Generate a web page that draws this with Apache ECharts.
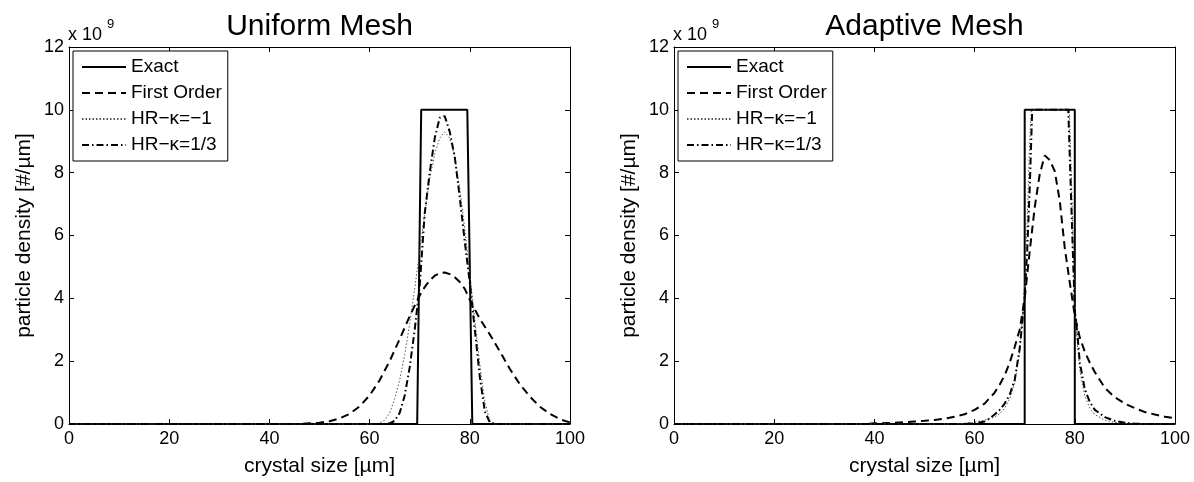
<!DOCTYPE html>
<html>
<head>
<meta charset="utf-8">
<script src="https://cdn.jsdelivr.net/npm/echarts@6/dist/echarts.min.js"></script>
<style>
  html, body { margin: 0; padding: 0; background: #fff; }
  #chart { width: 1194px; height: 482px; }
</style>
</head>
<body>
<div id="chart"></div>
<script>
// Particle density (units of 1e9 #/µm) versus crystal size (µm)

const seriesNames = ['Exact', 'First Order', 'HR\u2212\u03ba=\u22121', 'HR\u2212\u03ba=1/3'];
const panelTitles = ['Uniform Mesh', 'Adaptive Mesh'];
const xTicks = { min: 0, max: 100, step: 20 };
const yTicks = { min: 0, max: 12, step: 2 };

// ---- Uniform mesh ----
const uniformExactX = [0, 69.5, 70.3, 79.5, 80.5, 100];
const uniformExactY = [0, 0, 10, 10, 0, 0];

const uniformFirstX = [0, 46, 48, 50, 52, 54, 56, 58, 60, 62, 64, 66, 68, 69, 70, 71, 72, 73, 74, 75, 76, 77, 78, 79, 80, 81, 82, 84, 86, 88, 90, 92, 94, 96, 98, 100];
const uniformFirstY = [0, 0, 0.02, 0.04, 0.09, 0.18, 0.32, 0.56, 0.91, 1.39, 2.0, 2.7, 3.43, 3.77, 4.09, 4.36, 4.57, 4.72, 4.8, 4.82, 4.77, 4.67, 4.52, 4.3, 3.95, 3.65, 3.35, 2.85, 2.31, 1.75, 1.26, 0.87, 0.55, 0.32, 0.15, 0.05];

const uniformHRm1X = [0, 61, 62, 63, 64, 65, 66, 67, 68, 69, 70, 71, 72, 73, 74, 75, 76, 77, 78, 79, 80, 81, 82, 83, 84, 85, 100];
const uniformHRm1Y = [0, 0, 0.03, 0.12, 0.35, 0.8, 1.4, 2.2, 3.2, 4.3, 5.5, 6.7, 7.8, 8.6, 9.1, 9.3, 9.1, 8.5, 7.5, 6.2, 4.8, 3.3, 1.9, 0.7, 0.1, 0, 0];

const uniformHR13X = [0, 63, 64, 65, 66, 67, 68, 69, 70, 71, 72, 73, 74, 75, 76, 77, 78, 79, 80, 81, 82, 83, 84, 85, 100];
const uniformHR13Y = [0, 0, 0.02, 0.1, 0.35, 0.9, 1.8, 3.0, 4.4, 6.7, 8.0, 9.1, 9.75, 9.8, 9.3, 8.5, 7.2, 5.8, 4.5, 3.0, 1.5, 0.4, 0.05, 0, 0];

// ---- Adaptive mesh ----
const adaptiveExactX = [0, 70, 70, 80, 80, 100];
const adaptiveExactY = [0, 0, 10, 10, 0, 0];

const adaptiveFirstX = [0, 38, 40, 44, 48, 50, 52, 54, 56, 58, 60, 62, 64, 65, 66, 67, 68, 69, 70, 71, 72, 73, 74, 75, 76, 77, 78, 79, 80, 81, 82, 83, 84, 86, 88, 90, 92, 94, 96, 98, 100];
const adaptiveFirstY = [0, 0, 0.02, 0.04, 0.08, 0.1, 0.13, 0.17, 0.23, 0.31, 0.45, 0.65, 1.0, 1.25, 1.55, 1.95, 2.45, 3.0, 4.0, 5.5, 6.9, 7.95, 8.55, 8.4, 8.05, 7.1, 5.6, 4.5, 3.45, 2.75, 2.3, 1.95, 1.65, 1.15, 0.85, 0.65, 0.5, 0.38, 0.3, 0.23, 0.18];

const adaptiveHRm1X = [0, 56, 58, 60, 62, 64, 65, 66, 67, 68, 69, 69.5, 70, 70.5, 71, 71.3, 78.9, 79.3, 79.7, 80, 80.5, 81, 82, 83, 84, 86, 88, 90, 92, 100];
const adaptiveHRm1Y = [0, 0, 0.02, 0.06, 0.12, 0.22, 0.32, 0.5, 0.8, 1.3, 2.3, 3.3, 4.5, 6.5, 9.0, 10, 10, 8.0, 5.5, 3.8, 2.6, 1.7, 0.9, 0.5, 0.3, 0.12, 0.05, 0.02, 0, 0];

const adaptiveHR13X = [0, 58, 60, 62, 63, 64, 65, 66, 67, 68, 69, 69.5, 70, 70.5, 71, 71.5, 78.7, 79, 79.5, 80, 80.5, 81, 82, 83, 84, 86, 88, 90, 92, 94, 100];
const adaptiveHR13Y = [0, 0, 0.02, 0.08, 0.18, 0.3, 0.45, 0.65, 0.93, 1.4, 2.4, 3.2, 4.1, 5.5, 7.5, 10, 10, 8.5, 6.0, 3.6, 2.9, 1.96, 1.1, 0.7, 0.45, 0.22, 0.1, 0.04, 0.01, 0, 0];

const FONT = '"Liberation Sans", Arial, Helvetica, sans-serif';

const zip = (xs, ys) => xs.map((x, i) => [x, ys[i]]);

// Line styles: solid, dashed, dotted, dash-dot
const lineStyles = [
  { color: '#000', width: 2, type: 'solid' },
  { color: '#000', width: 2, type: [8, 5] },
  { color: '#555', width: 1, type: [1.5, 2] },
  { color: '#000', width: 2, type: [7, 3, 1.5, 3] }
];

const panels = [
  { left: 69, right: 624, data: [[uniformExactX, uniformExactY], [uniformFirstX, uniformFirstY], [uniformHRm1X, uniformHRm1Y], [uniformHR13X, uniformHR13Y]] },
  { left: 674, right: 19, data: [[adaptiveExactX, adaptiveExactY], [adaptiveFirstX, adaptiveFirstY], [adaptiveHRm1X, adaptiveHRm1Y], [adaptiveHR13X, adaptiveHR13Y]] }
];

const axisLineStyle = { lineStyle: { color: '#000', width: 1 } };
const grids = [], xAxes = [], yAxes = [], series = [], legends = [], titles = [], graphics = [];

panels.forEach((p, gi) => {
  grids.push({ left: p.left, right: p.right, top: 47, bottom: 53, containLabel: false });
  const plotW = 1194 - p.left - p.right;
  const cx = p.left + plotW / 2;

  // bottom (labelled) and top (ticks only) x axes
  xAxes.push({
    gridIndex: gi, type: 'value', min: xTicks.min, max: xTicks.max, interval: xTicks.step,
    position: 'bottom',
    axisLine: { show: true, onZero: false, ...axisLineStyle },
    axisTick: { show: true, inside: true, length: 5, lineStyle: { color: '#000' } },
    axisLabel: { color: '#000', fontSize: 18, fontFamily: FONT, margin: 6 },
    splitLine: { show: false },
    name: 'crystal size [\u00b5m]', nameLocation: 'middle', nameGap: 32,
    nameTextStyle: { color: '#000', fontSize: 21, fontFamily: FONT }
  });
  xAxes.push({
    gridIndex: gi, type: 'value', min: xTicks.min, max: xTicks.max, interval: xTicks.step,
    position: 'top',
    axisLine: { show: true, onZero: false, ...axisLineStyle },
    axisTick: { show: true, inside: true, length: 5, lineStyle: { color: '#000' } },
    axisLabel: { show: false }, splitLine: { show: false }
  });
  // left (labelled) and right (ticks only) y axes
  yAxes.push({
    gridIndex: gi, type: 'value', min: yTicks.min, max: yTicks.max, interval: yTicks.step,
    position: 'left',
    axisLine: { show: true, onZero: false, ...axisLineStyle },
    axisTick: { show: true, inside: true, length: 5, lineStyle: { color: '#000' } },
    axisLabel: { color: '#000', fontSize: 18, fontFamily: FONT, margin: 5 },
    splitLine: { show: false },
    name: 'particle density [#/\u00b5m]', nameLocation: 'middle', nameGap: 34,
    nameTextStyle: { color: '#000', fontSize: 21, fontFamily: FONT }
  });
  yAxes.push({
    gridIndex: gi, type: 'value', min: yTicks.min, max: yTicks.max, interval: yTicks.step,
    position: 'right',
    axisLine: { show: true, onZero: false, ...axisLineStyle },
    axisTick: { show: true, inside: true, length: 5, lineStyle: { color: '#000' } },
    axisLabel: { show: false }, splitLine: { show: false }
  });

  p.data.forEach((d, si) => {
    series.push({
      name: seriesNames[si], type: 'line',
      xAxisIndex: gi * 2, yAxisIndex: gi * 2,
      data: zip(d[0], d[1]),
      symbol: 'none', showSymbol: false, smooth: false,
      lineStyle: lineStyles[si], itemStyle: { color: lineStyles[si].color },
      clip: false, z: 2 + si
    });
  });

  // legend shows only the line sample (symbol made invisible)
  legends.push({
    orient: 'vertical', left: p.left + 4, top: 51,
    padding: [6, 6, 6, 8], itemGap: 6, itemWidth: 44, itemHeight: 14,
    borderColor: '#000', borderWidth: 1, backgroundColor: '#fff',
    itemStyle: { color: 'rgba(0,0,0,0)', borderColor: 'rgba(0,0,0,0)', borderWidth: 0, opacity: 0 },
    textStyle: { color: '#000', fontSize: 19, fontFamily: FONT, lineHeight: 20 },
    data: seriesNames, selectedMode: false
  });

  titles.push({
    text: panelTitles[gi], left: cx, top: 12, textAlign: 'center', padding: 0,
    textStyle: { color: '#000', fontSize: 30, fontWeight: 'normal', fontFamily: FONT }
  });

  // axis multiplier "x 10^9"
  graphics.push({ type: 'text', left: p.left - 1, top: 26, style: { text: 'x 10', fill: '#000', font: '18px ' + FONT } });
  graphics.push({ type: 'text', left: p.left + 38, top: 18, style: { text: '9', fill: '#000', font: '13px ' + FONT } });
});

const chart = echarts.init(document.getElementById('chart'), null, { renderer: 'canvas' });
chart.setOption({
  backgroundColor: '#fff',
  animation: false,
  title: titles,
  legend: legends,
  grid: grids,
  xAxis: xAxes,
  yAxis: yAxes,
  series: series,
  graphic: graphics
});
</script>
</body>
</html>
